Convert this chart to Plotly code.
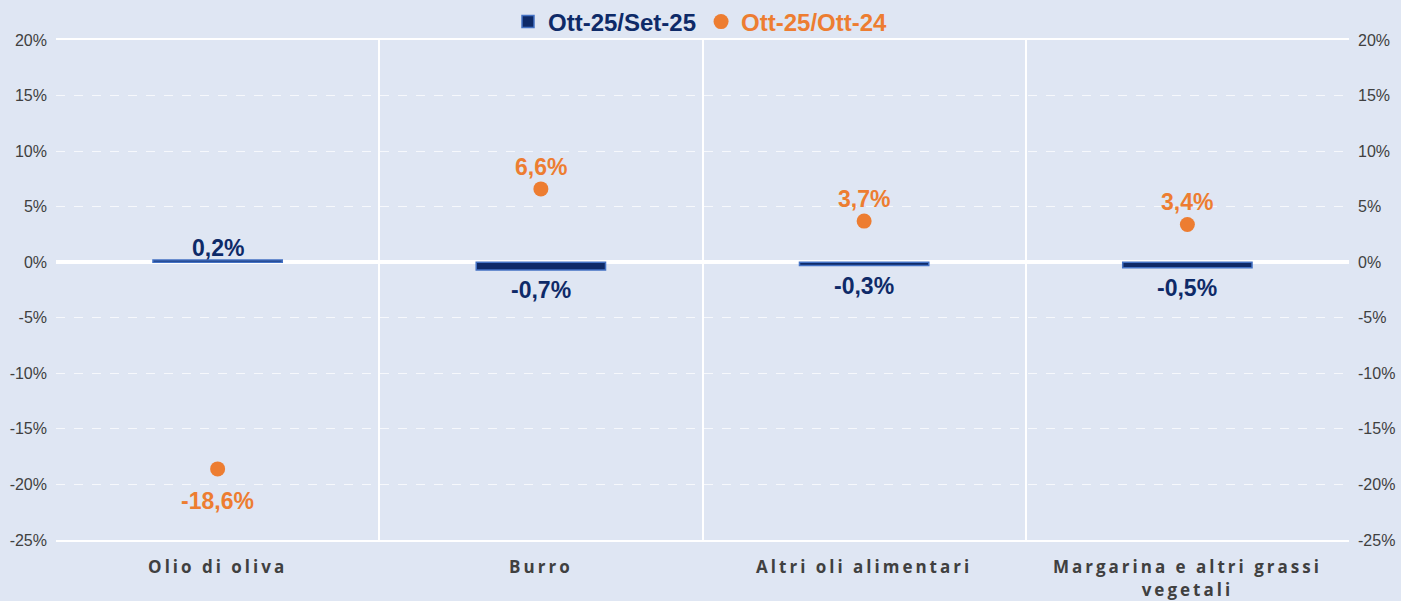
import plotly.graph_objects as go

categories = ["Olio di oliva", "Burro", "Altri oli alimentari", "Margarina e altri grassi<br>vegetali"]
mom_values = [0.2, -0.7, -0.3, -0.5]      # Ott-25/Set-25
yoy_values = [-18.6, 6.6, 3.7, 3.4]       # Ott-25/Ott-24
series_names = ["Ott-25/Set-25", "Ott-25/Ott-24"]
y_tick_vals = [20, 15, 10, 5, 0, -5, -10, -15, -20, -25]
y_tick_text = ["20%", "15%", "10%", "5%", "0%", "-5%", "-10%", "-15%", "-20%", "-25%"]

NAVY = "#0E2A68"
BAR_EDGE = "#4472C4"
ORANGE = "#ED7D31"
BG = "#DFE6F3"
GRAY = "#404040"
LABEL_FONT = "Liberation Sans, Arial"


def fmt(v):
    return f"{v:.1f}%".replace(".", ",")


cat_labels = [f'<span style="letter-spacing:3px">{c}</span>'.replace("<br>", '</span><br><span style="letter-spacing:3px">') for c in categories]

fig = go.Figure()
fig.add_trace(go.Bar(
    x=cat_labels, y=mom_values,
    name=f'<span style="color:{NAVY}"><b>{series_names[0]}</b></span>',
    marker=dict(color=NAVY, line=dict(color=BAR_EDGE, width=1.5)),
    width=0.4,
    cliponaxis=False,
))
fig.add_trace(go.Scatter(
    x=cat_labels, y=yoy_values,
    name=f'<span style="color:{ORANGE}"><b>{series_names[1]}</b></span>',
    mode="markers",
    marker=dict(color=ORANGE, size=15),
    cliponaxis=False,
    yaxis="y2",
))

annotations = []
for c, v in zip(cat_labels, mom_values):
    annotations.append(dict(
        x=c, y=v, xref="x", yref="y", text=f"<b>{fmt(v)}</b>", showarrow=False,
        yanchor="middle", yshift=12 if v >= 0 else -20,
        font=dict(family=LABEL_FONT, size=23, color=NAVY),
    ))
for c, v in zip(cat_labels, yoy_values):
    annotations.append(dict(
        x=c, y=v, xref="x", yref="y2", text=f"<b>{fmt(v)}</b>", showarrow=False,
        yanchor="middle", yshift=22 if v >= 0 else -32,
        font=dict(family=LABEL_FONT, size=23, color=ORANGE),
    ))

yaxis_common = dict(
    range=[-25, 20],
    tickvals=y_tick_vals, ticktext=y_tick_text,
    tickfont=dict(family=LABEL_FONT, size=16, color=GRAY),
    ticks="", ticklabelstandoff=8,
)

fig.update_layout(
    width=1401, height=601,
    paper_bgcolor=BG, plot_bgcolor=BG,
    margin=dict(l=56, r=52, t=40, b=61, autoexpand=False),
    showlegend=True,
    legend=dict(orientation="h", x=0.5, xanchor="center", xref="container",
                y=1 - 22 / 601, yanchor="middle", yref="container",
                font=dict(family=LABEL_FONT, size=24),
                bgcolor="rgba(0,0,0,0)", itemwidth=30, tracegroupgap=0),
    bargap=0.6,
    annotations=annotations,
    xaxis=dict(
        type="category",
        showgrid=True, gridcolor="white", gridwidth=2,
        tickson="boundaries", ticks="", ticklabelstandoff=11,
        showline=True, mirror=True, linecolor="white", linewidth=2,
        tickfont=dict(family="Open Sans", size=17, color=GRAY, weight="bold"),
    ),
    yaxis=dict(
        **yaxis_common,
        showgrid=True, gridcolor="rgba(255,255,255,0.7)", gridwidth=1, griddash="dash",
        zeroline=True, zerolinecolor="white", zerolinewidth=4,
        showline=False,
    ),
    yaxis2=dict(
        **yaxis_common,
        overlaying="y", side="right",
        showgrid=False, zeroline=False, showline=False,
    ),
)

fig.write_html("out.html", config={"displayModeBar": False},
               post_script="document.body.style.margin='0';")
